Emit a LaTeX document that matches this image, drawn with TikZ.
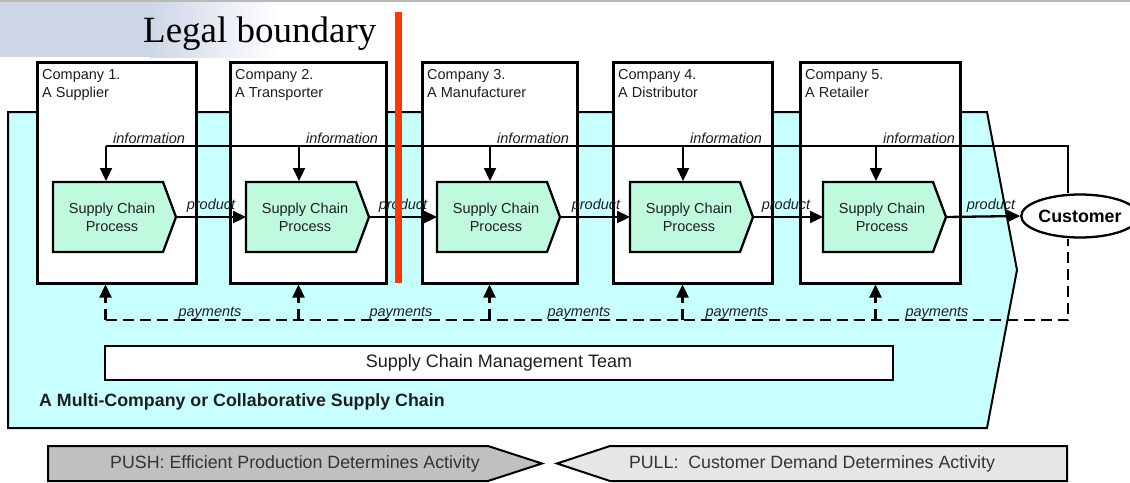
\documentclass[tikz,border=0pt]{standalone}
\usepackage{fontspec}
\setmainfont{Liberation Sans}
\newfontfamily\seriffont{Liberation Serif}
\usetikzlibrary{arrows.meta,shapes.geometric}
\definecolor{regioncyan}{RGB}{200,255,255}
\definecolor{scgreen}{RGB}{192,250,222}
\definecolor{legalred}{RGB}{255,55,0}
\definecolor{pushgrey}{RGB}{192,192,192}
\definecolor{pullgrey}{RGB}{230,230,230}
\definecolor{bgblue}{RGB}{205,214,230}
\definecolor{inktext}{RGB}{30,30,30}
\tikzset{
  compbox/.style={draw, line width=3pt, fill=white, inner sep=0pt},
  comptext/.style={font=\fontsize{14.5}{18}\selectfont, align=left, anchor=north west, inner sep=0pt, text=inktext},
  scproc/.style={draw, line width=2.3pt, fill=scgreen, line join=miter},
  sctext/.style={font=\fontsize{14.5}{18}\selectfont, align=center, inner sep=0pt, text=inktext},
  flow/.style={line width=2.3pt},
  flowarrow/.style={line width=2.3pt, -{Triangle[length=13pt,width=12pt]}},
  paydash/.style={line width=2.3pt, dash pattern=on 11pt off 6pt},
  payarrow/.style={paydash, -{Triangle[length=13pt,width=12pt]}},
  lbl/.style={font=\itshape\fontsize{14.5}{17}\selectfont, inner sep=0pt, text=inktext},
  bigtext/.style={font=\fontsize{17.8}{20}\selectfont, inner sep=0pt, text=inktext},
}
\begin{document}
\begin{tikzpicture}[x=1pt,y=-1pt]
\useasboundingbox (0,0) rectangle (1130,482);
% slide background
\fill[bgblue] (0,0) rectangle (150,57);
\shade[left color=bgblue, right color=white] (150,0) rectangle (280,57);
\fill[gray!55] (0,0) rectangle (1130,1.5);
% collaborative region
\draw[line width=2pt, fill=regioncyan, line join=miter] (8,112) -- (987,112) -- (1017,270) -- (987,428) -- (8,428) -- cycle;
% companies
\node[compbox, minimum width=159pt, minimum height=221pt] (c1) at (116.5,172.5) {};
\node[compbox, minimum width=156pt, minimum height=221pt] (c2) at (308,172.5) {};
\node[compbox, minimum width=155pt, minimum height=221pt] (c3) at (499.5,172.5) {};
\node[compbox, minimum width=159pt, minimum height=221pt] (c4) at (692.5,172.5) {};
\node[compbox, minimum width=160pt, minimum height=221pt] (c5) at (880,172.5) {};
\node[comptext] (t1) at (42,69.5) {Company 1.\\A Supplier};
\node[comptext] (t2) at (235,69.5) {Company 2.\\A Transporter};
\node[comptext] (t3) at (427,69.5) {Company 3.\\A Manufacturer};
\node[comptext] (t4) at (618,69.5) {Company 4.\\A Distributor};
\node[comptext] (t5) at (805,69.5) {Company 5.\\A Retailer};
% customer
\node[ellipse, draw, line width=2.3pt, fill=white, minimum width=97pt, minimum height=43pt, inner sep=0pt, font=\bfseries\fontsize{17.8}{20}\selectfont] (cust) at (1080,216) {Customer};
% supply chain processes
\foreach \L [count=\i] in {53,246,437,630,823} {
  \draw[scproc] (\L,182) -- ++(110,0) -- ++(13,35) -- ++(-13,35) -- ++(-110,0) -- cycle;
  \node[sctext] (sc\i) at (\L+59,217) {Supply Chain\\Process};
  \coordinate (scin\i) at (\L,217);
  \coordinate (sctip\i) at (\L+123,217);
  \coordinate (sctop\i) at (\L+53,181);
  \coordinate (info\i) at (\L+53,146);
  \coordinate (pay\i) at (\L+52.5,320);
}
% information flow
\coordinate (infoR) at (1068,146);
\draw[flow] (info1) -- (infoR) -- (infoR |- cust.north);
\foreach \i in {1,...,5} {
  \draw[flowarrow] (info\i) -- (sctop\i);
  \node[lbl, anchor=base west] (il\i) at ([xshift=7pt,yshift=3pt]info\i) {information};
}
% product flow
\draw[flowarrow] (sctip1) -- (scin2);
\draw[flowarrow] (sctip2) -- (scin3);
\draw[flowarrow] (sctip3) -- (scin4);
\draw[flowarrow] (sctip4) -- (scin5);
\draw[flowarrow] (sctip5) -- (cust.west);
\node[lbl, anchor=base] (pl1) at (211,209) {product};
\node[lbl, anchor=base] (pl2) at (403,209) {product};
\node[lbl, anchor=base] (pl3) at (596,209) {product};
\node[lbl, anchor=base] (pl4) at (786,209) {product};
\node[lbl, anchor=base] (pl5) at (991,209) {product};
% payments
\coordinate (payR) at (1068,320);
\draw[paydash] (pay1) -- (payR) -- (payR |- cust.south);
\draw[payarrow] (pay1) -- (pay1 |- c1.south);
\draw[payarrow] (pay2) -- (pay2 |- c2.south);
\draw[payarrow] (pay3) -- (pay3 |- c3.south);
\draw[payarrow] (pay4) -- (pay4 |- c4.south);
\draw[payarrow] (pay5) -- (pay5 |- c5.south);
\node[lbl, anchor=base] (yl1) at (210,316) {payments};
\node[lbl, anchor=base] (yl2) at (401,316) {payments};
\node[lbl, anchor=base] (yl3) at (579,316) {payments};
\node[lbl, anchor=base] (yl4) at (737,316) {payments};
\node[lbl, anchor=base] (yl5) at (937,316) {payments};
% management team
\node[draw, line width=2.3pt, fill=white, minimum width=788pt, minimum height=34pt, inner sep=0pt, font=\fontsize{18}{20}\selectfont, text=inktext] (team) at (499,363) {Supply Chain Management Team};
\node[bigtext, font=\bfseries\fontsize{17.8}{20}\selectfont, anchor=base west] (multi) at (39,406) {A Multi-Company or Collaborative Supply Chain};
% push / pull
\draw[line width=2pt, fill=pushgrey, line join=miter] (48,446) -- (488,446) -- (542,463.5) -- (488,481) -- (48,481) -- cycle;
\node[bigtext, text=black!80] (push) at (295,463.5) {PUSH: Efficient Production Determines Activity};
\draw[line width=2pt, fill=pullgrey, line join=miter] (557,463.5) -- (610,446) -- (1067,446) -- (1067,481) -- (610,481) -- cycle;
\node[bigtext, text=black!80] (pull) at (812,463.5) {PULL:\ \ Customer Demand Determines Activity};
% legal boundary
\node[font=\seriffont\fontsize{37}{40}\selectfont, anchor=base west, inner sep=0pt] (legal) at (143,42) {Legal boundary};
\fill[legalred] (395,12) rectangle (402,283);
\end{tikzpicture}
\end{document}
